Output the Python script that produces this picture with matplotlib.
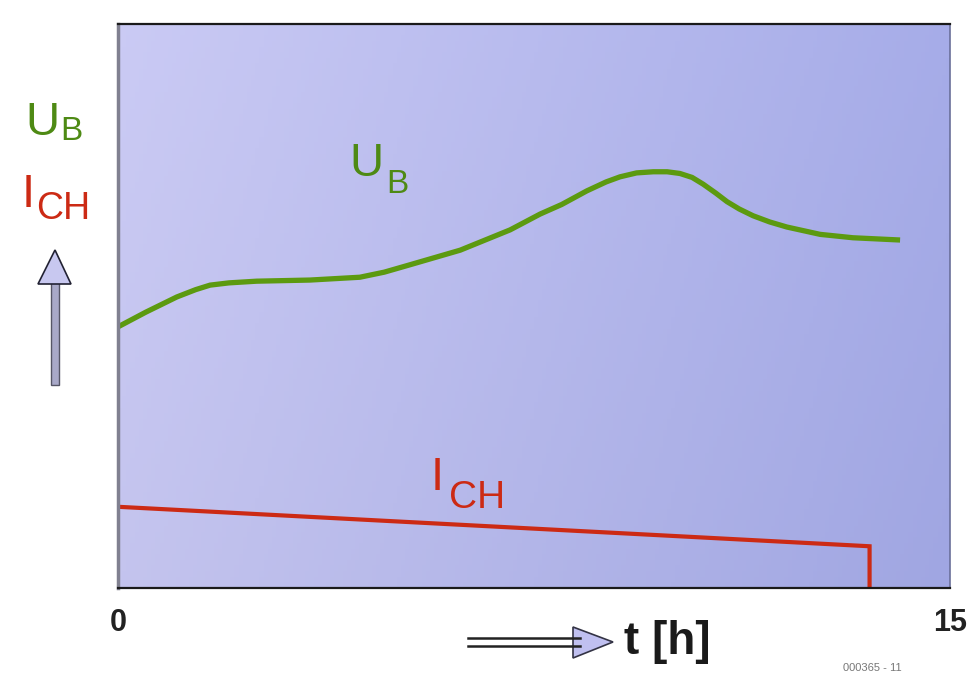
import numpy as np
import matplotlib.pyplot as plt
from matplotlib.patches import Polygon

plt.rcParams['font.family'] = ['Liberation Sans', 'DejaVu Sans']

# battery voltage U_B (arbitrary units) over charge time t [h]
t_ub = [0.0, 0.5, 1.06, 1.4, 1.66, 2.0, 2.5, 3.46, 4.36, 4.8, 5.26, 6.17, 7.07,
        7.61, 8.0, 8.45, 8.8, 9.05, 9.35, 9.65, 9.9, 10.13, 10.35, 10.55, 10.78,
        10.98, 11.2, 11.45, 11.75, 12.06, 12.66, 13.25, 14.10]
u_b = [46.3, 48.9, 51.6, 52.9, 53.7, 54.1, 54.4, 54.6, 55.1, 56.0, 57.3, 59.9, 63.5,
       66.3, 68.0, 70.4, 72.0, 72.9, 73.6, 73.8, 73.8, 73.5, 72.8, 71.6, 70.0,
       68.5, 67.2, 66.0, 64.9, 64.0, 62.7, 62.1, 61.7]

# charge current I_CH
t_ich = [0.0, 13.55, 13.55]
i_ch = [14.4, 7.4, 0.0]

x_ticks = [0, 15]

fig = plt.figure(figsize=(9.68, 6.75), dpi=100)
ax = fig.add_axes([118/968, 87/675, 832/968, 564/675])
ax.set_xlim(0, 15)
ax.set_ylim(0, 100)

# lavender gradient background
gx = np.linspace(0, 1, 200)
gy = np.linspace(0, 1, 100)
GX, GY = np.meshgrid(gx, gy)
c_left = np.array([196, 196, 238]) / 255
c_right = np.array([160, 166, 226]) / 255
img = c_left[None, None, :] * (1 - GX[..., None]) + c_right[None, None, :] * GX[..., None]
img = img + 0.025 * GY[..., None]
img = np.clip(img, 0, 1)
ax.imshow(img, extent=[0, 15, 0, 100], origin='lower', aspect='auto', zorder=0)

ax.plot(t_ub, u_b, color='#5c9a10', lw=3.8, solid_capstyle='butt',
        solid_joinstyle='round', zorder=2)
ax.plot(t_ich, i_ch, color='#cc2a14', lw=3.0, solid_joinstyle='miter', zorder=2)

ax.set_xticks([])
ax.set_yticks([])
for s in ['top', 'bottom']:
    ax.spines[s].set_color('#1a1a1a')
    ax.spines[s].set_linewidth(1.6)
ax.spines['left'].set_color('#808090')
ax.spines['left'].set_linewidth(2.5)
ax.spines['right'].set_color('#6a6f9a')
ax.spines['right'].set_linewidth(1.2)

# labels inside the plot
ax.text(4.48, 75.2, 'U', color='#4e8a14', fontsize=34, ha='center', va='center')
ax.text(5.03, 71.5, 'B', color='#4e8a14', fontsize=24, ha='center', va='center')
ax.text(5.75, 19.5, 'I', color='#cc2a14', fontsize=34, ha='center', va='center')
ax.text(6.47, 16.0, 'CH', color='#cc2a14', fontsize=28, ha='center', va='center')

# tick labels
for v in x_ticks:
    ax.text(v, -6.2, str(v), fontsize=22, fontweight='bold', ha='center', va='center', color='#222222')

# left axis label (figure pixel coords)
def fx(px):
    return px / 968

def fy(py):
    return 1 - py / 675

fig.text(fx(42), fy(123), 'U', color='#4e8a14', fontsize=34, ha='center', va='center')
fig.text(fx(71), fy(132), 'B', color='#4e8a14', fontsize=24, ha='center', va='center')
fig.text(fx(28), fy(195), 'I', color='#cc2a14', fontsize=34, ha='center', va='center')
fig.text(fx(63), fy(209), 'CH', color='#cc2a14', fontsize=27, ha='center', va='center')

# up arrow on the left
fig.patches.append(plt.Rectangle((fx(51), fy(385)), fx(8), fy(282) - fy(385),
                                 transform=fig.transFigure, facecolor='#a8a8c8',
                                 edgecolor='#555566', lw=1.0))
fig.patches.append(Polygon([[fx(38), fy(284)], [fx(71), fy(284)], [fx(55), fy(250)]],
                           closed=True, transform=fig.transFigure,
                           facecolor='#c8c8f0', edgecolor='#222233', lw=1.2))

# time arrow at the bottom
fig.add_artist(plt.Line2D([fx(468), fx(580)], [fy(638), fy(638)], color='#222222', lw=1.8))
fig.add_artist(plt.Line2D([fx(468), fx(580)], [fy(646), fy(646)], color='#222222', lw=1.8))
fig.patches.append(Polygon([[fx(573), fy(627)], [fx(573), fy(658)], [fx(613), fy(642)]],
                           closed=True, transform=fig.transFigure,
                           facecolor='#c0c0f0', edgecolor='#333344', lw=1.2))
fig.text(fx(667), fy(642), 't [h]', fontsize=33, fontweight='bold', ha='center', va='center',
         color='#1a1a1a')

fig.text(fx(872), fy(668), '000365 - 11', fontsize=8, ha='center', va='center', color='#777777')

fig.savefig('out.png', dpi=100)
